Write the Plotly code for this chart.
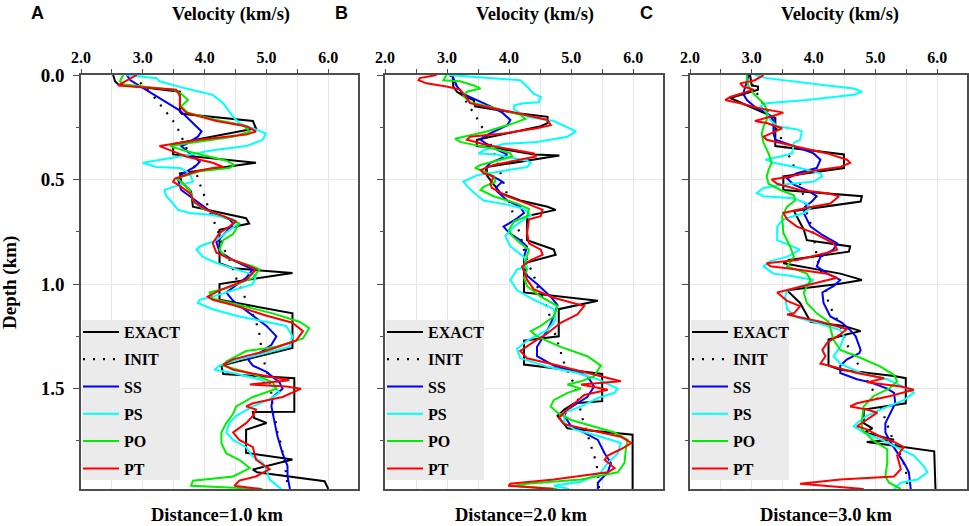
import plotly.graph_objects as go

# velocity profiles: (depth km, velocity km/s)
A_EXACT = [(0, 2.52), (0.03, 2.55), (0.045, 2.6), (0.08, 3.6), (0.175, 3.6), (0.185, 3.63), (0.22, 4.78), (0.255, 4.83),
           (0.33, 3.49), (0.38, 3.49), (0.42, 4.83), (0.47, 3.6), (0.51, 3.62), (0.557, 3.78), (0.63, 3.81), (0.685, 4.67),
           (0.71, 4.72), (0.74, 4.24), (0.9, 4.24), (0.924, 4.46), (0.947, 5.42), (1.0, 4.24), (1.075, 4.24), (1.14, 5.42),
           (1.305, 5.42), (1.39, 4.27), (1.43, 4.3), (1.45, 5.45), (1.61, 5.45), (1.612, 4.78), (1.64, 4.8), (1.664, 5.0),
           (1.697, 4.67), (1.807, 4.67), (1.839, 5.42), (1.887, 4.78), (1.9, 4.85), (1.943, 5.94), (1.98, 6.0)]
A_INIT = [(0, 2.85), (0.05, 3.0), (0.09, 3.14), (0.13, 3.25), (0.17, 3.37), (0.215, 3.48), (0.26, 3.57), (0.37, 3.73),
          (0.41, 3.8), (0.52, 3.92), (0.565, 3.98), (0.67, 4.1), (0.725, 4.19), (0.83, 4.31), (0.875, 4.39), (0.93, 4.46),
          (0.98, 4.52), (1.03, 4.6), (1.08, 4.68), (1.18, 4.83), (1.23, 4.88), (1.29, 4.91), (1.35, 4.94), (1.39, 4.98),
          (1.45, 5.04), (1.5, 5.07), (1.61, 5.11), (1.66, 5.15), (1.715, 5.18), (1.77, 5.24), (1.87, 5.3), (1.98, 5.35)]
A_SS = [(0, 2.74), (0.025, 2.8), (0.17, 3.6), (0.25, 3.87), (0.27, 3.95), (0.295, 3.89), (0.33, 3.7), (0.34, 3.62),
        (0.36, 3.7), (0.4, 3.87), (0.415, 3.92), (0.44, 3.84), (0.47, 3.65), (0.5, 3.57), (0.55, 3.62), (0.58, 3.76),
        (0.615, 3.92), (0.66, 4.13), (0.69, 4.4), (0.71, 4.46), (0.75, 4.35), (0.8, 4.19), (0.845, 4.24), (0.885, 4.46),
        (0.915, 4.67), (0.93, 4.78), (0.97, 4.67), (1.04, 4.35), (1.08, 4.46), (1.14, 4.73), (1.2, 5.0), (1.25, 5.16),
        (1.29, 5.08), (1.33, 4.89), (1.36, 4.7), (1.39, 4.78), (1.42, 5.0), (1.47, 5.21), (1.5, 5.26), (1.54, 5.1),
        (1.585, 5.08), (1.66, 5.13), (1.73, 5.18), (1.81, 5.26), (1.87, 5.34), (1.92, 5.34), (1.98, 5.38)]
A_PS = [(0, 2.74), (0.015, 3.22), (0.03, 3.27), (0.065, 3.7), (0.095, 4.13), (0.135, 4.3), (0.2, 4.46), (0.23, 4.56),
        (0.255, 4.78), (0.28, 4.99), (0.31, 4.94), (0.34, 4.67), (0.36, 4.13), (0.375, 3.87), (0.39, 3.6), (0.42, 3.0),
        (0.44, 3.22), (0.445, 3.6), (0.46, 3.7), (0.485, 3.78), (0.51, 3.81), (0.535, 3.49), (0.55, 3.35), (0.58, 3.38),
        (0.605, 3.46), (0.645, 3.57), (0.66, 3.76), (0.67, 4.13), (0.69, 4.46), (0.71, 4.54), (0.79, 4.19), (0.82, 3.92),
        (0.835, 3.87), (0.87, 3.97), (0.9, 4.2), (0.95, 4.73), (0.96, 4.83), (1.0, 4.78), (1.03, 4.46), (1.06, 4.13),
        (1.075, 3.92), (1.09, 3.89), (1.12, 4.13), (1.155, 4.56), (1.18, 4.99), (1.2, 5.32), (1.25, 5.42), (1.3, 5.37),
        (1.33, 4.99), (1.36, 4.56), (1.39, 4.24), (1.41, 4.16), (1.425, 4.46), (1.455, 4.89), (1.5, 5.16), (1.52, 5.21),
        (1.55, 5.05), (1.585, 4.78), (1.63, 4.51), (1.665, 4.4), (1.71, 4.35), (1.745, 4.46), (1.78, 4.67), (1.825, 4.78),
        (1.855, 4.94), (1.89, 5.0), (1.935, 5.05), (1.96, 5.16), (1.98, 5.24)]
A_PO = [(0, 2.68), (0.03, 2.63), (0.045, 2.7), (0.07, 3.49), (0.09, 3.62), (0.12, 3.73), (0.15, 3.62), (0.18, 3.73),
        (0.215, 4.19), (0.24, 4.62), (0.27, 4.73), (0.295, 4.46), (0.325, 3.76), (0.34, 3.44), (0.36, 3.65), (0.38, 3.92),
        (0.41, 4.35), (0.43, 4.48), (0.445, 4.4), (0.46, 3.92), (0.495, 3.54), (0.51, 3.62), (0.55, 3.76), (0.6, 3.81),
        (0.64, 3.97), (0.68, 4.35), (0.71, 4.56), (0.76, 4.46), (0.79, 4.3), (0.835, 4.24), (0.875, 4.35), (0.915, 4.78),
        (0.93, 4.89), (0.97, 4.78), (1.02, 4.35), (1.04, 4.08), (1.07, 4.13), (1.1, 4.56), (1.14, 5.1), (1.18, 5.53),
        (1.21, 5.69), (1.26, 5.59), (1.3, 5.16), (1.32, 4.67), (1.37, 4.35), (1.39, 4.3), (1.43, 4.78), (1.47, 5.1),
        (1.5, 5.16), (1.54, 4.78), (1.585, 4.51), (1.62, 4.46), (1.665, 4.35), (1.71, 4.27), (1.76, 4.27), (1.81, 4.35),
        (1.84, 4.56), (1.88, 4.73), (1.92, 4.46), (1.94, 3.81), (1.965, 3.78), (1.98, 4.94)]
A_PT = [(0, 2.9), (0.025, 2.74), (0.05, 2.6), (0.07, 3.54), (0.1, 3.6), (0.15, 3.6), (0.18, 3.7), (0.22, 4.19),
        (0.245, 4.67), (0.27, 4.83), (0.285, 4.67), (0.31, 3.92), (0.34, 3.27), (0.365, 3.49), (0.39, 3.7), (0.42, 4.13),
        (0.44, 4.3), (0.445, 4.13), (0.46, 3.87), (0.495, 3.52), (0.51, 3.49), (0.535, 3.62), (0.565, 3.76), (0.61, 3.84),
        (0.645, 4.03), (0.675, 4.3), (0.7, 4.51), (0.725, 4.4), (0.755, 4.24), (0.805, 4.13), (0.85, 4.19), (0.885, 4.46),
        (0.915, 4.73), (0.93, 4.83), (0.98, 4.67), (1.03, 4.24), (1.06, 4.05), (1.075, 4.13), (1.1, 4.46), (1.15, 4.99),
        (1.185, 5.42), (1.225, 5.59), (1.27, 5.48), (1.32, 4.99), (1.36, 4.46), (1.385, 4.3), (1.41, 4.46), (1.44, 4.99),
        (1.46, 5.37), (1.48, 4.73), (1.49, 5.32), (1.5, 5.56), (1.54, 5.26), (1.57, 4.78), (1.585, 4.67), (1.6, 4.83),
        (1.63, 4.78), (1.665, 4.67), (1.71, 4.46), (1.745, 4.56), (1.78, 4.78), (1.84, 4.83), (1.885, 5.05), (1.92, 4.83),
        (1.94, 4.56), (1.965, 4.48), (1.98, 4.91)]

B_EXACT = [(0, 3.09), (0.055, 3.1), (0.08, 3.16), (0.1, 3.26), (0.12, 3.43), (0.15, 3.45), (0.18, 4.08), (0.2, 4.62),
           (0.23, 4.62), (0.245, 4.51), (0.31, 3.48), (0.34, 3.48), (0.345, 3.7), (0.38, 4.4), (0.385, 4.81), (0.44, 3.64),
           (0.48, 3.64), (0.565, 3.86), (0.6, 4.18), (0.63, 4.62), (0.645, 4.75), (0.675, 4.29), (0.79, 4.29), (0.835, 4.72),
           (0.86, 4.75), (0.885, 4.45), (0.9, 4.24), (1.04, 4.24), (1.08, 5.43), (1.12, 4.8), (1.25, 4.8), (1.27, 4.24),
           (1.385, 4.24), (1.43, 5.5), (1.56, 5.5), (1.57, 5.05), (1.6, 4.89), (1.63, 4.78), (1.69, 4.94), (1.72, 5.99),
           (1.98, 5.99)]
B_INIT = [(0, 3.05), (0.05, 3.15), (0.1, 3.26), (0.148, 3.35), (0.19, 3.45), (0.24, 3.55), (0.3, 3.66), (0.39, 3.78),
          (0.44, 3.83), (0.55, 3.94), (0.65, 4.05), (0.7, 4.1), (0.755, 4.17), (0.86, 4.26), (0.915, 4.33), (0.96, 4.4),
          (1.01, 4.45), (1.07, 4.54), (1.115, 4.62), (1.17, 4.67), (1.27, 4.78), (1.38, 4.89), (1.43, 4.97), (1.48, 5.05),
          (1.54, 5.1), (1.64, 5.18), (1.745, 5.29), (1.8, 5.35), (1.85, 5.4), (1.9, 5.43), (1.98, 5.45)]
B_SS = [(0, 3.08), (0.055, 3.16), (0.09, 3.26), (0.12, 3.48), (0.15, 3.7), (0.18, 3.89), (0.215, 4.02), (0.24, 3.97),
        (0.27, 3.75), (0.295, 3.59), (0.31, 3.54), (0.33, 3.64), (0.365, 3.86), (0.38, 3.97), (0.4, 3.86), (0.42, 3.7),
        (0.445, 3.62), (0.47, 3.64), (0.495, 3.8), (0.51, 3.89), (0.535, 3.8), (0.555, 3.8), (0.6, 3.97), (0.63, 4.18),
        (0.66, 4.24), (0.685, 4.13), (0.71, 4.0), (0.725, 3.91), (0.755, 4.0), (0.79, 4.18), (0.82, 4.29), (0.87, 4.24),
        (0.915, 4.24), (0.96, 4.29), (1.0, 4.45), (1.06, 4.67), (1.1, 4.78), (1.155, 4.72), (1.22, 4.62), (1.3, 4.45),
        (1.345, 4.45), (1.39, 4.72), (1.41, 5.0), (1.44, 5.26), (1.49, 5.37), (1.54, 5.26), (1.57, 5.1), (1.6, 4.94),
        (1.63, 4.89), (1.68, 5.0), (1.71, 5.21), (1.745, 5.43), (1.81, 5.54), (1.855, 5.64), (1.9, 5.59), (1.95, 5.43),
        (1.98, 5.43)]
B_PS = [(0, 3.02), (0.025, 4.18), (0.055, 4.29), (0.09, 4.4), (0.105, 4.51), (0.13, 4.48), (0.135, 4.24), (0.145, 4.08),
        (0.165, 4.08), (0.2, 4.29), (0.22, 4.72), (0.27, 5.08), (0.295, 4.94), (0.32, 4.45), (0.33, 3.91), (0.36, 3.59),
        (0.375, 3.51), (0.38, 3.8), (0.39, 3.94), (0.4, 4.13), (0.41, 4.29), (0.42, 4.35), (0.44, 4.29), (0.455, 3.97),
        (0.48, 3.48), (0.51, 3.26), (0.54, 3.35), (0.575, 3.48), (0.6, 3.59), (0.62, 3.97), (0.64, 4.24), (0.67, 4.35),
        (0.69, 4.24), (0.725, 4.08), (0.77, 3.94), (0.82, 4.02), (0.87, 4.24), (0.915, 4.29), (0.93, 4.13), (0.98, 4.02),
        (1.03, 4.13), (1.075, 4.4), (1.12, 4.72), (1.17, 4.75), (1.22, 4.62), (1.27, 4.29), (1.31, 4.13), (1.355, 4.18),
        (1.395, 4.62), (1.425, 5.1), (1.455, 5.43), (1.5, 5.75), (1.52, 5.7), (1.545, 5.43), (1.585, 5.16), (1.615, 4.89),
        (1.665, 4.89), (1.695, 5.05), (1.73, 5.48), (1.76, 5.8), (1.81, 5.75), (1.855, 5.59), (1.9, 5.48), (1.945, 5.16),
        (1.965, 4.72), (1.98, 4.97)]
B_PO = [(0, 2.99), (0.025, 2.94), (0.03, 3.21), (0.05, 3.43), (0.065, 3.54), (0.08, 3.32), (0.1, 3.26), (0.13, 3.37),
        (0.16, 3.8), (0.19, 4.18), (0.21, 4.26), (0.23, 4.08), (0.27, 3.64), (0.29, 3.32), (0.305, 3.13), (0.32, 3.21),
        (0.34, 3.54), (0.36, 3.86), (0.375, 4.02), (0.39, 4.05), (0.405, 3.86), (0.43, 3.54), (0.445, 3.45), (0.46, 3.59),
        (0.485, 3.75), (0.51, 3.78), (0.535, 3.59), (0.55, 3.54), (0.58, 3.75), (0.615, 4.13), (0.64, 4.32), (0.675, 4.29),
        (0.7, 4.08), (0.74, 4.0), (0.77, 4.05), (0.805, 4.18), (0.835, 4.32), (0.87, 4.29), (0.915, 4.24), (0.93, 4.29),
        (0.97, 4.24), (1.01, 4.29), (1.06, 4.51), (1.105, 4.78), (1.155, 4.72), (1.2, 4.51), (1.225, 4.35), (1.25, 4.45),
        (1.3, 4.83), (1.345, 5.26), (1.39, 5.48), (1.44, 5.37), (1.465, 5.16), (1.48, 4.94), (1.5, 5.16), (1.52, 4.94),
        (1.555, 4.72), (1.585, 4.67), (1.615, 4.78), (1.65, 5.0), (1.68, 5.37), (1.71, 5.7), (1.745, 5.91), (1.79, 5.88),
        (1.855, 5.86), (1.9, 5.75), (1.935, 5.16), (1.955, 4.29), (1.965, 4.08), (1.98, 4.78)]
B_PT = [(0, 2.83), (0.015, 2.56), (0.025, 2.54), (0.04, 2.67), (0.055, 2.99), (0.07, 3.21), (0.11, 3.32), (0.135, 3.37),
        (0.16, 3.75), (0.185, 4.18), (0.215, 4.62), (0.24, 4.67), (0.255, 4.45), (0.28, 3.91), (0.295, 3.37), (0.31, 3.32),
        (0.335, 3.64), (0.36, 4.08), (0.375, 4.4), (0.39, 4.43), (0.405, 4.18), (0.43, 3.75), (0.455, 3.54), (0.47, 3.59),
        (0.485, 3.75), (0.52, 3.7), (0.54, 3.72), (0.58, 3.97), (0.615, 4.29), (0.645, 4.54), (0.675, 4.51), (0.69, 4.32),
        (0.755, 4.29), (0.805, 4.32), (0.835, 4.51), (0.86, 4.54), (0.885, 4.35), (0.915, 4.21), (0.98, 4.29), (1.025, 4.4),
        (1.065, 4.72), (1.105, 5.21), (1.145, 5.1), (1.185, 4.83), (1.235, 4.62), (1.275, 4.4), (1.32, 4.18), (1.355, 4.29),
        (1.385, 4.72), (1.425, 5.26), (1.465, 5.8), (1.48, 5.16), (1.505, 5.59), (1.53, 5.21), (1.57, 5.05), (1.6, 4.94),
        (1.64, 4.8), (1.67, 4.89), (1.695, 5.26), (1.73, 5.8), (1.76, 5.97), (1.79, 5.8), (1.82, 5.59), (1.84, 5.54),
        (1.88, 5.7), (1.9, 5.59), (1.935, 4.72), (1.955, 4.02), (1.965, 3.99), (1.98, 4.72)]

C_EXACT = [(0, 2.97), (0.05, 3.0), (0.055, 3.1), (0.07, 3.1), (0.11, 2.65), (0.2, 3.35), (0.205, 3.38), (0.34, 3.38),
           (0.38, 4.49), (0.445, 4.49), (0.485, 3.51), (0.55, 3.51), (0.58, 4.78), (0.605, 4.76), (0.65, 3.68),
           (0.74, 3.84), (0.79, 3.89), (0.82, 4.59), (0.845, 4.57), (0.885, 3.6), (0.9, 3.51), (0.95, 4.43), (0.98, 4.78),
           (1.0, 4.4), (1.03, 3.57), (1.09, 3.78), (1.18, 3.95), (1.2, 4.49), (1.225, 4.76), (1.24, 4.54), (1.265, 4.24),
           (1.39, 4.24), (1.41, 4.43), (1.44, 5.3), (1.45, 5.49), (1.57, 5.49), (1.6, 4.81), (1.665, 4.81), (1.69, 4.95),
           (1.71, 4.81), (1.72, 4.97), (1.745, 5.3), (1.755, 4.86), (1.765, 5.1), (1.8, 5.95), (1.98, 5.97)]
C_INIT = [(0, 2.95), (0.065, 3.03), (0.1, 3.11), (0.2, 3.3), (0.295, 3.46), (0.4, 3.62), (0.45, 3.7), (0.5, 3.76),
          (0.605, 3.86), (0.66, 3.89), (0.71, 3.95), (0.82, 4.03), (0.875, 4.05), (0.93, 4.11), (0.98, 4.16), (1.09, 4.24),
          (1.14, 4.32), (1.185, 4.41), (1.29, 4.54), (1.39, 4.73), (1.53, 5.0), (1.585, 5.08), (1.63, 5.14), (1.69, 5.22),
          (1.735, 5.27), (1.785, 5.35), (1.835, 5.43), (1.885, 5.49), (1.98, 5.52)]
C_SS = [(0, 2.95), (0.03, 2.92), (0.09, 2.86), (0.12, 2.92), (0.16, 3.08), (0.18, 3.24), (0.215, 3.35), (0.28, 3.35),
        (0.31, 3.38), (0.34, 3.68), (0.375, 4.0), (0.405, 4.11), (0.445, 4.05), (0.47, 3.73), (0.495, 3.57), (0.525, 3.68),
        (0.555, 3.92), (0.58, 4.05), (0.605, 3.97), (0.63, 3.86), (0.66, 3.84), (0.725, 3.95), (0.765, 4.14), (0.805, 4.38),
        (0.835, 4.32), (0.87, 4.11), (0.915, 4.05), (0.95, 4.22), (0.98, 4.43), (1.01, 4.32), (1.04, 4.14), (1.09, 4.16),
        (1.155, 4.27), (1.185, 4.46), (1.22, 4.59), (1.25, 4.68), (1.315, 4.76), (1.33, 4.74), (1.36, 4.54), (1.39, 4.43),
        (1.425, 4.43), (1.455, 4.7), (1.47, 4.92), (1.5, 5.19), (1.52, 5.3), (1.57, 5.32), (1.615, 5.24), (1.665, 5.16),
        (1.71, 5.16), (1.755, 5.24), (1.805, 5.35), (1.855, 5.46), (1.9, 5.54), (1.98, 5.57)]
C_PS = [(0, 3.05), (0.015, 3.24), (0.05, 4.22), (0.065, 4.65), (0.08, 4.78), (0.095, 4.65), (0.12, 3.89), (0.135, 3.24),
        (0.15, 3.14), (0.18, 3.24), (0.215, 3.3), (0.245, 3.41), (0.26, 3.73), (0.27, 3.81), (0.31, 3.78), (0.325, 3.68),
        (0.375, 3.65), (0.39, 3.46), (0.405, 3.22), (0.42, 3.35), (0.445, 3.78), (0.47, 4.11), (0.485, 4.14), (0.51, 4.0),
        (0.52, 3.62), (0.54, 3.19), (0.565, 3.08), (0.58, 3.19), (0.59, 3.68), (0.615, 3.89), (0.635, 3.95), (0.66, 3.84),
        (0.69, 3.51), (0.725, 3.41), (0.79, 3.41), (0.81, 3.57), (0.835, 3.78), (0.87, 3.57), (0.89, 3.3), (0.915, 3.19),
        (0.95, 3.35), (0.96, 3.62), (0.98, 4.0), (0.995, 3.95), (1.03, 3.57), (1.06, 3.54), (1.12, 3.57), (1.16, 3.73),
        (1.18, 4.0), (1.22, 4.43), (1.25, 4.49), (1.3, 4.43), (1.345, 4.32), (1.38, 4.43), (1.425, 4.76), (1.455, 5.19),
        (1.5, 5.51), (1.52, 5.62), (1.555, 5.46), (1.6, 5.08), (1.63, 4.86), (1.665, 4.7), (1.68, 4.65), (1.71, 4.81),
        (1.75, 5.14), (1.79, 5.41), (1.82, 5.62), (1.87, 5.78), (1.9, 5.84), (1.935, 5.68), (1.95, 5.41), (1.98, 5.3)]
C_PO = [(0, 2.92), (0.03, 2.92), (0.055, 2.95), (0.09, 3.03), (0.135, 3.19), (0.165, 3.24), (0.215, 3.24), (0.245, 3.19),
        (0.28, 3.16), (0.325, 3.19), (0.375, 3.27), (0.42, 3.32), (0.455, 3.27), (0.485, 3.24), (0.52, 3.27), (0.55, 3.46),
        (0.575, 3.68), (0.6, 3.7), (0.63, 3.57), (0.675, 3.49), (0.755, 3.51), (0.82, 3.62), (0.87, 3.68), (0.915, 3.57),
        (0.95, 3.89), (0.98, 3.95), (1.01, 3.89), (1.04, 3.84), (1.09, 3.89), (1.14, 4.05), (1.18, 4.24), (1.265, 4.32),
        (1.315, 4.43), (1.345, 4.7), (1.395, 5.08), (1.435, 5.3), (1.465, 5.35), (1.5, 5.22), (1.535, 4.97), (1.585, 4.81),
        (1.65, 4.78), (1.695, 4.78), (1.75, 4.97), (1.79, 5.19), (1.855, 5.19), (1.92, 5.16), (1.95, 5.22), (1.98, 5.41)]
C_PT = [(0, 3.19), (0.025, 3.05), (0.04, 2.81), (0.055, 2.86), (0.07, 3.03), (0.105, 2.65), (0.12, 2.57), (0.135, 2.81),
        (0.16, 3.14), (0.18, 3.51), (0.2, 3.3), (0.22, 3.05), (0.23, 3.24), (0.255, 3.49), (0.295, 3.19), (0.31, 3.24),
        (0.34, 3.68), (0.375, 4.22), (0.405, 4.54), (0.42, 4.59), (0.44, 4.43), (0.455, 4.05), (0.485, 3.62), (0.5, 3.32),
        (0.52, 3.41), (0.55, 3.78), (0.565, 4.22), (0.58, 4.41), (0.615, 4.27), (0.635, 3.89), (0.66, 3.51), (0.69, 3.57),
        (0.725, 3.73), (0.755, 4.0), (0.805, 4.32), (0.835, 4.38), (0.85, 4.22), (0.885, 3.73), (0.9, 3.24), (0.915, 3.3),
        (0.93, 3.73), (0.95, 4.22), (0.97, 4.38), (0.99, 4.1), (1.02, 3.73), (1.04, 3.41), (1.065, 3.51), (1.08, 3.57),
        (1.105, 3.78), (1.14, 3.68), (1.145, 3.57), (1.18, 4.11), (1.215, 4.54), (1.24, 4.43), (1.28, 4.22), (1.315, 4.14),
        (1.345, 4.19), (1.38, 4.11), (1.395, 4.32), (1.425, 4.7), (1.45, 5.14), (1.47, 4.86), (1.49, 5.41), (1.505, 5.62),
        (1.535, 5.24), (1.57, 4.7), (1.585, 4.59), (1.6, 4.86), (1.615, 5.03), (1.65, 4.86), (1.68, 4.7), (1.695, 4.86),
        (1.73, 5.08), (1.755, 5.3), (1.78, 5.46), (1.82, 5.35), (1.885, 5.41), (1.92, 5.3), (1.935, 4.43), (1.955, 3.78),
        (1.965, 4.2), (1.98, 4.81)]

SERIES = ['EXACT', 'INIT', 'SS', 'PS', 'PO', 'PT']
COLORS = {'EXACT': 'black', 'INIT': 'black', 'SS': '#0000ff', 'PS': '#00ffff', 'PO': '#00ee00', 'PT': '#ff0000'}
PANELS = [('A', '1.0', [A_EXACT, A_INIT, A_SS, A_PS, A_PO, A_PT]),
          ('B', '2.0', [B_EXACT, B_INIT, B_SS, B_PS, B_PO, B_PT]),
          ('C', '3.0', [C_EXACT, C_INIT, C_SS, C_PS, C_PO, C_PT])]

W, H = 969, 526
xdom = [(81, 358), (385, 663), (690, 967)]
serif = 'Liberation Serif, Times New Roman, serif'
axcol = '#4d4d4d'
grid = '#e6e6e6'


def px(x, y):
    return x / W, 1 - y / H


ydom = [px(0, 489)[1], px(0, 75)[1]]


def label(text, x, y, size, family=serif, angle=0):
    ax, ay = px(x, y)
    return dict(text=text, x=ax, y=ay, xref='paper', yref='paper', xanchor='center', yanchor='middle',
                showarrow=False, textangle=angle, font=dict(family=family, size=size, color='black'))


fig = go.Figure()
annotations = []
shapes = []
for i, (letter, dist, curves) in enumerate(PANELS):
    sfx = '' if i == 0 else str(i + 1)
    leg = 'legend' + sfx
    for name, curve in zip(SERIES, curves):
        d = [p[0] for p in curve]
        v = [p[1] for p in curve]
        line = {'color': COLORS[name], 'width': 2}
        if name == 'INIT':
            line = {'color': 'black', 'width': 2.2, 'dash': '2px,8px'}
        fig.add_trace(go.Scatter(x=v, y=d, mode='lines', name=name, line=line, legendgroup=name + sfx,
                                 xaxis='x' + sfx, yaxis='y' + sfx, legend=leg))
    x0, x1 = xdom[i]
    lx, ly = px(x0 - 3, 315)
    fig.update_layout(**{
        'xaxis' + sfx: dict(domain=[px(x0, 0)[0], px(x1, 0)[0]], anchor='y' + sfx, side='top', range=[2, 6.48],
                            tick0=2, dtick=1, tickformat='.1f', ticks='outside', ticklen=4, tickcolor=axcol,
                            showline=True, linecolor=axcol, linewidth=1.5, mirror=True, zeroline=False,
                            showgrid=True, gridcolor=grid, automargin=False,
                            minor=dict(dtick=0.5, ticks='outside', ticklen=4, tickcolor=axcol,
                                       showgrid=True, gridcolor=grid),
                            tickfont=dict(family=serif, size=16, color='black', weight='bold')),
        'yaxis' + sfx: dict(domain=ydom, anchor='x' + sfx, range=[1.98, 0], tick0=0, dtick=0.5,
                            tickformat='.1f', ticks='outside', ticklen=6, tickcolor=axcol,
                            showline=True, linecolor=axcol, linewidth=1.5, mirror=True, zeroline=False,
                            showgrid=True, gridcolor=grid, showticklabels=(i == 0), automargin=False,
                            ticklabelstandoff=5,
                            minor=dict(dtick=0.25, ticks='outside', ticklen=3, tickcolor=axcol, showgrid=False),
                            tickfont=dict(family=serif, size=19, color='black', weight='bold')),
        leg: dict(x=lx, y=ly, xanchor='left', yanchor='top', bgcolor='rgba(0,0,0,0)',
                  font=dict(family=serif, size=16, color='black', weight='bold'), itemwidth=36,
                  tracegroupgap=3.5),
    })
    # grey legend panel
    bx0, by0 = px(x0 + 1, 480)
    bx1, by1 = px(x0 + 99, 320)
    shapes.append(dict(type='rect', xref='paper', yref='paper', x0=bx0, x1=bx1, y0=by0, y1=by1,
                       fillcolor='#ebebeb', line_width=0, layer='above'))
    cx = (x0 + x1) / 2
    annotations.append(label('<b>Velocity (km/s)</b>', cx + 11, 14, 18.5))
    annotations.append(label('<b>Distance=%s km</b>' % dist, cx - 3, 515, 18.5))
    annotations.append(label('<b>%s</b>' % letter, x0 - 44, 13, 18, family='Liberation Sans, Arial, sans-serif'))

annotations.append(label('<b>Depth (km)</b>', 10, 283, 19, angle=-90))

fig.update_layout(width=W, height=H, margin=dict(l=0, r=0, t=0, b=0, autoexpand=False), plot_bgcolor='white',
                  paper_bgcolor='white', annotations=annotations, shapes=shapes)
# drop the default page margin so the figure sits at the window corner
fig.write_html("out.html", config={'displayModeBar': False},
               post_script="document.body.style.margin='0px';")
